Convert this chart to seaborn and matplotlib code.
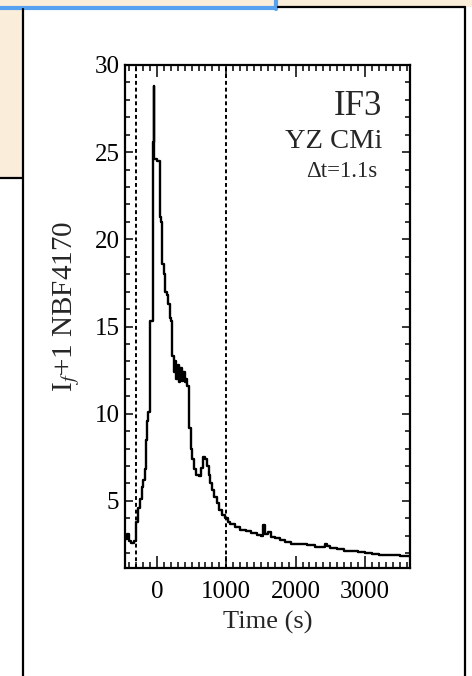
import matplotlib
matplotlib.use("Agg")
import matplotlib.pyplot as plt
import seaborn as sns
import numpy as np
import pandas as pd
from matplotlib.patches import Rectangle
from matplotlib.lines import Line2D
from matplotlib.ticker import MultipleLocator

# ---------------- data ----------------
time_s = [-460, -430, -400, -370, -330, -300, -270, -240, -215, -195, -175, -160,
          -145, -130, -100, -60, -45, -35, 0, 40, 60, 75, 100, 115, 140, 160, 185,
          210, 220, 245, 260, 280, 300, 320, 340, 360, 380, 400, 420, 440, 460,
          490, 510, 540, 570, 600, 630, 660, 690, 720, 745, 770, 800, 830, 860,
          900, 940, 980, 1020, 1060, 1120, 1200, 1280, 1360, 1440, 1500, 1530,
          1560, 1600, 1650, 1700, 1780, 1850, 1940, 2060, 2160, 2280, 2380, 2420,
          2460, 2500, 2600, 2700, 2800, 2900, 3000, 3100, 3200, 3300, 3400, 3500,
          3650]
flux = [2.8, 3.1, 2.7, 2.6, 2.7, 3.8, 4.6, 5.1, 5.8, 6.2, 6.8, 8.5,
        9.6, 10.1, 15.3, 25.6, 28.8, 24.6, 24.5, 21.3, 21.0, 18.6, 18.0, 17.0, 16.8, 16.3, 15.5,
        15.3, 13.3, 12.4, 13.0, 12.0, 12.8, 11.8, 12.6, 11.9, 12.4, 11.8, 12.0, 11.6, 9.2,
        8.0, 7.4, 6.8, 6.5, 6.4, 6.9, 7.5, 7.4, 7.0, 6.5, 6.0, 5.6, 5.2, 4.9,
        4.5, 4.2, 4.0, 3.8, 3.65, 3.5, 3.35, 3.25, 3.15, 3.05, 3.0, 3.6,
        3.1, 3.2, 2.95, 2.85, 2.75, 2.65, 2.55, 2.5, 2.45, 2.38, 2.35, 2.55,
        2.4, 2.3, 2.22, 2.15, 2.1, 2.05, 2.0, 1.95, 1.92, 1.9, 1.88, 1.85,
        1.85]
vline_times = [-300, 1000]
x_ticks = [0, 1000, 2000, 3000]
y_ticks = [5, 10, 15, 20, 25, 30]
label_big = "IF3"
label_star = "YZ CMi"
label_dt = "\u0394t=1.1s"

df = pd.DataFrame({"Time (s)": time_s, "flux": flux})

# ---------------- style ----------------
sns.set_style("ticks")
plt.rcParams["font.family"] = ["Liberation Serif", "DejaVu Serif"]
plt.rcParams["mathtext.fontset"] = "stix"

W, H = 472, 676
fig = plt.figure(figsize=(W / 100, H / 100), dpi=100, facecolor="white")

def fx(px):
    return px / W

def fy(py):
    return 1 - py / H

# background decoration (slide screenshot frame)
beige = "#FAEEDA"
fig.add_artist(Rectangle((0, fy(178)), fx(22), fy(0) - fy(178), transform=fig.transFigure,
                         facecolor=beige, edgecolor="none", zorder=0))
fig.add_artist(Rectangle((0, fy(7)), 1, fy(0) - fy(7), transform=fig.transFigure,
                         facecolor=beige, edgecolor="none", zorder=0))
fig.add_artist(Line2D([0, fx(22)], [fy(178), fy(178)], transform=fig.transFigure,
                      color="black", lw=1.6))
# blue box edge
fig.add_artist(Line2D([0, fx(276)], [fy(7.5), fy(7.5)], transform=fig.transFigure,
                      color="#56A2F0", lw=3))
fig.add_artist(Line2D([fx(276), fx(276)], [fy(0), fy(9)], transform=fig.transFigure,
                      color="#56A2F0", lw=3))
# black panel border
fig.add_artist(Line2D([fx(22.5), fx(22.5)], [fy(9), 0], transform=fig.transFigure,
                      color="black", lw=1.6))
fig.add_artist(Line2D([fx(278), fx(465)], [fy(6.5), fy(6.5)], transform=fig.transFigure,
                      color="black", lw=1.6))
fig.add_artist(Line2D([fx(465), fx(465)], [fy(6.5), 0], transform=fig.transFigure,
                      color="black", lw=1.6))

ax = fig.add_axes([fx(125), fy(568), fx(410) - fx(125), fy(65) - fy(568)])
ax.set_facecolor("white")

sns.lineplot(data=df, x="Time (s)", y="flux", ax=ax, color="black", lw=1.7,
             drawstyle="steps-post", estimator=None, sort=False)

for t in vline_times:
    ax.axvline(t, color="black", lw=1.4, ls=(0, (2.0, 1.5)))

ax.set_xlim(-460, 3650)
ax.set_ylim(1.15, 30)
ax.set_xticks(x_ticks)
ax.set_yticks(y_ticks)
ax.set_yticklabels([str(v) for v in y_ticks])
ax.xaxis.set_minor_locator(MultipleLocator(100))
ax.yaxis.set_minor_locator(MultipleLocator(1))
ax.tick_params(axis="both", which="both", direction="in", top=True, right=True,
               width=1.1, colors="black", labelsize=18)
ax.tick_params(axis="x", which="major", length=8.5, pad=9)
ax.tick_params(axis="x", which="minor", length=4.3)
ax.tick_params(axis="y", which="major", length=6, pad=4)
ax.tick_params(axis="y", which="minor", length=3.6)
for s in ax.spines.values():
    s.set_linewidth(1.6)
    s.set_color("black")

ax.set_xlabel("Time (s)", fontsize=19, labelpad=6)
ax.set_ylabel(r"I$_{f}$+1 NBF4170", fontsize=21)
ax.yaxis.set_label_coords(-0.15, 0.52)

ax.text(0.902, 0.90, label_big, transform=ax.transAxes, ha="right", va="baseline", fontsize=25)
ax.text(0.902, 0.835, label_star, transform=ax.transAxes, ha="right", va="baseline", fontsize=20.5)
ax.text(0.885, 0.777, label_dt, transform=ax.transAxes, ha="right", va="baseline", fontsize=16.5)

fig.savefig("out.png", dpi=100, facecolor="white")
